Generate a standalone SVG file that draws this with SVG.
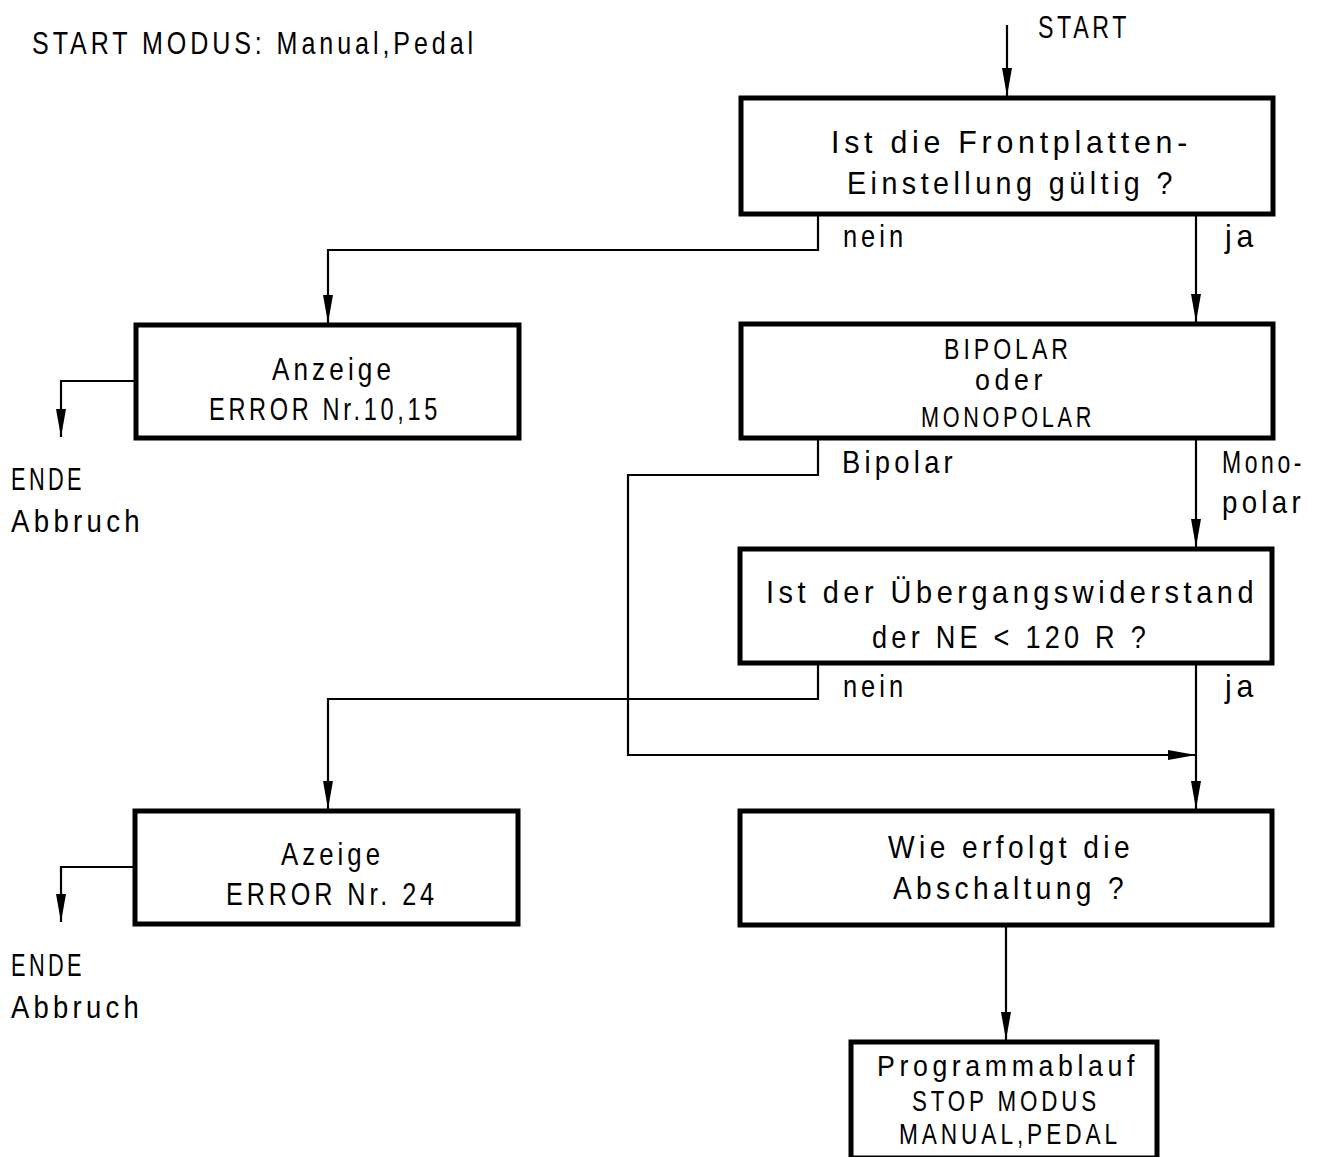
<svg xmlns="http://www.w3.org/2000/svg" width="1334" height="1157" viewBox="0 0 1334 1157">
<defs>
<marker id="ah" markerWidth="28" markerHeight="10" refX="28" refY="5" orient="auto" markerUnits="userSpaceOnUse" viewBox="0 0 28 10">
<path d="M0,0 L28,5 L0,10 Z" fill="#000"/>
</marker>
<style>
.box{fill:#fff;stroke:#000;stroke-width:5}
.ln{fill:none;stroke:#000;stroke-width:2.2}
text{font-family:"Liberation Sans",Arial,sans-serif;font-size:32px;letter-spacing:5px;fill:#000}
.sm{font-size:29px}
</style>
</defs>
<rect width="1334" height="1157" fill="#fff"/>
<g id="connectors">
<path class="ln" d="M1007,25 V96" marker-end="url(#ah)"/>
<path class="ln" d="M818,214 V250 H328 V323" marker-end="url(#ah)"/>
<path class="ln" d="M1196,214 V322" marker-end="url(#ah)"/>
<path class="ln" d="M136,381 H61 V437" marker-end="url(#ah)"/>
<path class="ln" d="M818,438 V475 H628 V755 H1196" marker-end="url(#ah)"/>
<path class="ln" d="M1196,438 V547" marker-end="url(#ah)"/>
<path class="ln" d="M818,663 V699 H328 V809" marker-end="url(#ah)"/>
<path class="ln" d="M1196,663 V809" marker-end="url(#ah)"/>
<path class="ln" d="M135,867 H61 V922" marker-end="url(#ah)"/>
<path class="ln" d="M1006,925 V1040" marker-end="url(#ah)"/>
</g>
<g id="title"><text x="32" y="54" textLength="445" lengthAdjust="spacingAndGlyphs">START MODUS: Manual,Pedal</text></g>
<g id="start"><text x="1038" y="38" textLength="92" lengthAdjust="spacingAndGlyphs">START</text></g>
<g id="n1">
<rect class="box" x="741" y="98" width="532" height="116"/>
<text x="831" y="153" textLength="361" lengthAdjust="spacingAndGlyphs">Ist die Frontplatten-</text>
<text x="847" y="194" textLength="330" lengthAdjust="spacingAndGlyphs">Einstellung gültig ?</text>
</g>
<g id="l1"><text x="843" y="247" textLength="64" lengthAdjust="spacingAndGlyphs">nein</text><text x="1225" y="247" textLength="33" lengthAdjust="spacingAndGlyphs">ja</text></g>
<g id="n2">
<rect class="box" x="136" y="325" width="383" height="113"/>
<text x="272" y="380" textLength="123" lengthAdjust="spacingAndGlyphs">Anzeige</text>
<text x="209" y="420" textLength="232" lengthAdjust="spacingAndGlyphs">ERROR Nr.10,15</text>
</g>
<g id="e1"><text x="11" y="490" textLength="74" lengthAdjust="spacingAndGlyphs">ENDE</text><text x="11" y="532" textLength="133" lengthAdjust="spacingAndGlyphs">Abbruch</text></g>
<g id="n3">
<rect class="box" x="741" y="324" width="532" height="114"/>
<text class="sm" x="944" y="359" textLength="128" lengthAdjust="spacingAndGlyphs">BIPOLAR</text>
<text class="sm" x="975" y="390" textLength="72" lengthAdjust="spacingAndGlyphs">oder</text>
<text class="sm" x="921" y="427" textLength="174" lengthAdjust="spacingAndGlyphs">MONOPOLAR</text>
</g>
<g id="l2"><text x="842" y="473" textLength="115" lengthAdjust="spacingAndGlyphs">Bipolar</text><text x="1222" y="473" textLength="83" lengthAdjust="spacingAndGlyphs">Mono-</text><text x="1222" y="513" textLength="83" lengthAdjust="spacingAndGlyphs">polar</text></g>
<g id="n4">
<rect class="box" x="740" y="549" width="532" height="114"/>
<text x="766" y="603" textLength="492" lengthAdjust="spacingAndGlyphs">Ist der Übergangswiderstand</text>
<text x="872" y="648" textLength="278" lengthAdjust="spacingAndGlyphs">der NE &lt; 120 R ?</text>
</g>
<g id="l3"><text x="843" y="697" textLength="64" lengthAdjust="spacingAndGlyphs">nein</text><text x="1225" y="697" textLength="33" lengthAdjust="spacingAndGlyphs">ja</text></g>
<g id="n5">
<rect class="box" x="135" y="811" width="383" height="113"/>
<text x="281" y="865" textLength="103" lengthAdjust="spacingAndGlyphs">Azeige</text>
<text x="226" y="905" textLength="212" lengthAdjust="spacingAndGlyphs">ERROR Nr. 24</text>
</g>
<g id="e2"><text x="11" y="976" textLength="74" lengthAdjust="spacingAndGlyphs">ENDE</text><text x="11" y="1018" textLength="132" lengthAdjust="spacingAndGlyphs">Abbruch</text></g>
<g id="n6">
<rect class="box" x="740" y="811" width="532" height="114"/>
<text x="888" y="858" textLength="246" lengthAdjust="spacingAndGlyphs">Wie erfolgt die</text>
<text x="893" y="899" textLength="235" lengthAdjust="spacingAndGlyphs">Abschaltung ?</text>
</g>
<g id="n7">
<rect class="box" x="851" y="1042" width="306" height="116"/>
<text class="sm" x="877" y="1076" textLength="262" lengthAdjust="spacingAndGlyphs">Programmablauf</text>
<text class="sm" x="912" y="1111" textLength="188" lengthAdjust="spacingAndGlyphs">STOP MODUS</text>
<text class="sm" x="899" y="1144" textLength="222" lengthAdjust="spacingAndGlyphs">MANUAL,PEDAL</text>
</g>
</svg>
